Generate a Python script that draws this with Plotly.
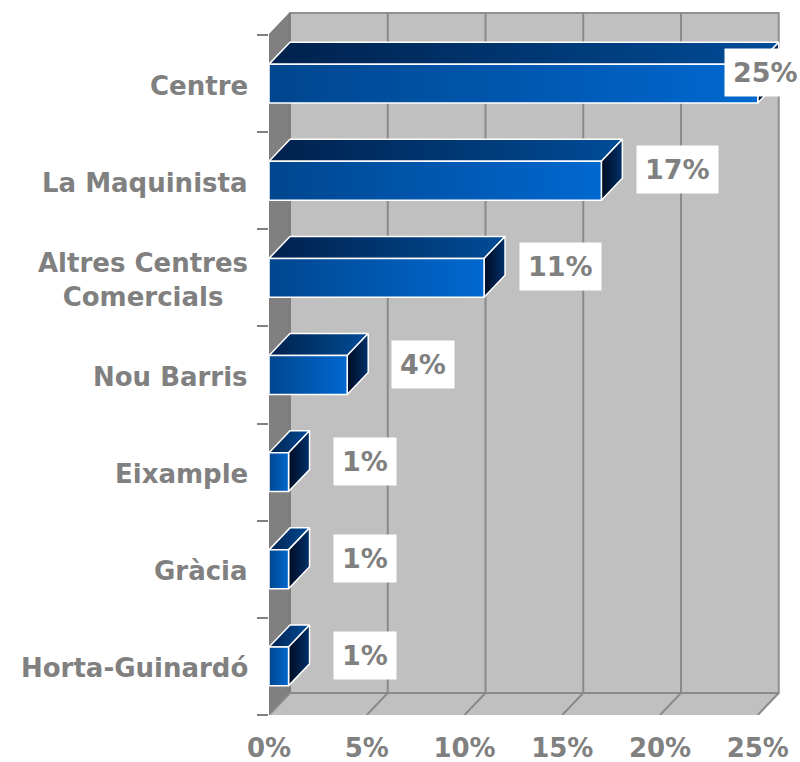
import plotly.graph_objects as go

# ---- data ----
categories = ["Centre", "La Maquinista", "Altres Centres<br>Comercials",
              "Nou Barris", "Eixample", "Gràcia", "Horta-Guinardó"]
values = [25, 17, 11, 4, 1, 1, 1]
x_ticks = [0, 5, 10, 15, 20, 25]
x_ticklabels = ["0%", "5%", "10%", "15%", "20%", "25%"]

# ---- geometry (3D look) ----
PX_PER_X = 19.55          # pixels per percent
PX_PER_Y = 97.14          # pixels per category band
DX = 21 / PX_PER_X        # depth offset in x units
DY = 22 / PX_PER_Y        # depth offset in y units
H = 0.20                  # half-height of bar front face (band units)
XMAX = 25
n = len(categories)
ylo, yhi = -0.5, n - 0.5

GRAY_TXT = "#808080"
FONT = "DejaVu Sans"

fig = go.Figure()

def poly(xs, ys, fill=None, line_color="rgba(0,0,0,0)", lw=0, grad=None):
    kw = dict(x=xs + [xs[0]], y=ys + [ys[0]], mode="lines", fill="toself",
              line=dict(color=line_color, width=lw), hoverinfo="skip",
              showlegend=False)
    if grad is not None:
        kw["fillgradient"] = dict(type="horizontal", colorscale=grad)
        kw["fillcolor"] = grad[0][1]
    else:
        kw["fillcolor"] = fill
    fig.add_trace(go.Scatter(**kw))

# back wall
poly([DX, XMAX + DX, XMAX + DX, DX], [ylo + DY, ylo + DY, yhi + DY, yhi + DY],
     fill="#c0c0c0", line_color="#909090", lw=2)
# left wall
poly([0, DX, DX, 0], [ylo, ylo + DY, yhi + DY, yhi],
     fill="#808080", line_color="#7a7a7a", lw=1.5)
# floor
poly([0, XMAX, XMAX + DX, DX], [ylo, ylo, ylo + DY, ylo + DY],
     fill="#c0c0c0", line_color="rgba(0,0,0,0)", lw=0)

# gridlines on back wall and floor
gx, gy = [], []
for t in x_ticks[1:-1]:
    gx += [t + DX, t + DX, None]
    gy += [ylo + DY, yhi + DY, None]
for t in x_ticks:
    gx += [t, t + DX, None]
    gy += [ylo, ylo + DY, None]
gx += [DX, XMAX + DX, None]
gy += [ylo + DY, ylo + DY, None]
fig.add_trace(go.Scatter(x=gx, y=gy, mode="lines",
                         line=dict(color="#8a8a8a", width=2),
                         hoverinfo="skip", showlegend=False))

FRONT = [[0, "#00468e"], [1, "#0068d0"]]
TOP = [[0, "#00214c"], [1, "#004c98"]]
SIDE = [[0, "#000c22"], [1, "#00306a"]]

annotations = []
for i, (cat, v) in enumerate(zip(categories, values)):
    c = n - 1 - i
    # top face
    poly([0, v, v + DX, DX], [c + H, c + H, c + H + DY, c + H + DY],
         line_color="white", lw=1.5, grad=TOP)
    # side face
    poly([v, v + DX, v + DX, v], [c - H, c - H + DY, c + H + DY, c + H],
         line_color="white", lw=1.5, grad=SIDE)
    # front face
    poly([0, v, v, 0], [c - H, c - H, c + H, c + H],
         line_color="white", lw=1.5, grad=FRONT)

    annotations.append(dict(
        x=min(v + 3.9, 25.4), y=c + DY / 2, xref="x", yref="y",
        text=f"{v}%", showarrow=False, bgcolor="white", borderpad=8,
        font=dict(family=FONT, size=27, color=GRAY_TXT, weight="bold")))
    annotations.append(dict(
        x=0, y=c, xref="paper", yref="y", xanchor="right", yanchor="middle",
        xshift=-19, yshift=-2, text=cat, showarrow=False, align="center",
        font=dict(family=FONT, size=26, color=GRAY_TXT, weight="bold")))

fig.update_layout(
    width=800, height=762,
    margin=dict(l=269, r=0, t=0, b=47),
    paper_bgcolor="white", plot_bgcolor="white",
    showlegend=False,
    annotations=annotations,
    xaxis=dict(range=[0, 531 / PX_PER_X], showgrid=False, zeroline=False,
               showline=False, tickvals=x_ticks, ticktext=x_ticklabels,
               ticks="", ticklabelstandoff=15, fixedrange=True,
               tickfont=dict(family=FONT, size=26, color=GRAY_TXT,
                             weight="bold")),
    yaxis=dict(range=[ylo, ylo + 715 / PX_PER_Y], showgrid=False,
               zeroline=False, showline=False,
               tickvals=[k - 0.5 for k in range(n + 1)],
               ticktext=[""] * (n + 1), ticks="outside", ticklen=11,
               tickwidth=2, tickcolor="#808080", fixedrange=True),
)

fig.write_html("out.html", config={"displayModeBar": False},
               post_script="document.body.style.margin='0';")
